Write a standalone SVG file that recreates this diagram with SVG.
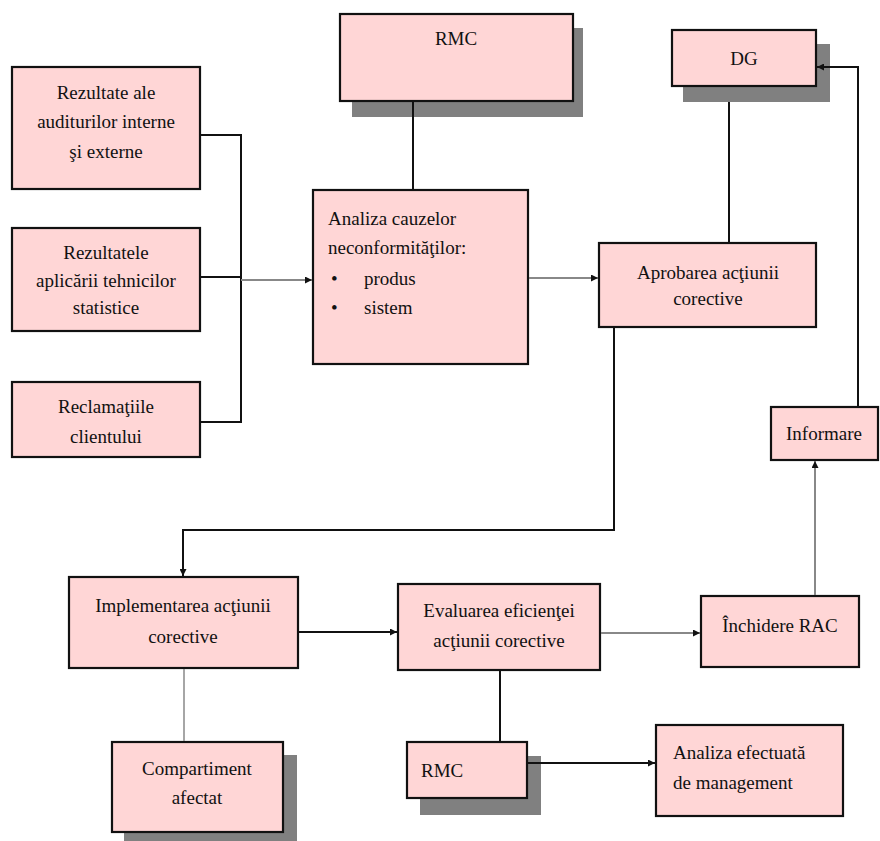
<svg xmlns="http://www.w3.org/2000/svg" width="880" height="841" viewBox="0 0 880 841">
<style>
.box{fill:#ffd6d6;stroke:#111;stroke-width:2.2}
.sh{fill:#808080}
.t{font-family:"Liberation Serif","DejaVu Serif",serif;font-size:19px;fill:#111}
.c{text-anchor:middle}
.ln{fill:none;stroke:#111;stroke-width:2}
.lg{fill:none;stroke:#888;stroke-width:2}
</style>
<defs>
<marker id="ah" viewBox="0 0 10 10" refX="10" refY="5" markerWidth="8" markerHeight="7" orient="auto" markerUnits="userSpaceOnUse">
<path d="M0,0 L10,5 L0,10 z" fill="#111"/>
</marker>
</defs>
<rect width="880" height="841" fill="#fff"/>
<g id="rezultate-audit">
<rect class="box" x="12" y="67" width="188" height="122"/>
<text class="t c" x="106" y="99">Rezultate ale</text>
<text class="t c" x="106" y="128">auditurilor interne</text>
<text class="t c" x="106" y="158">şi externe</text>
</g>
<g id="rezultate-statistice">
<rect class="box" x="12" y="228" width="188" height="103"/>
<text class="t c" x="106" y="259">Rezultatele</text>
<text class="t c" x="106" y="287">aplicării  tehnicilor</text>
<text class="t c" x="106" y="314">statistice</text>
</g>
<g id="reclamatii">
<rect class="box" x="12" y="382" width="188" height="75"/>
<text class="t c" x="106" y="413">Reclamaţiile</text>
<text class="t c" x="106" y="443">clientului</text>
</g>
<g id="rmc-top">
<rect class="sh" x="352" y="28" width="231" height="89"/>
<rect class="box" x="340" y="14" width="233" height="87"/>
<text class="t c" x="456" y="45">RMC</text>
</g>
<g id="analiza-cauzelor">
<rect class="box" x="313" y="190" width="215" height="174"/>
<text class="t" x="328" y="225">Analiza cauzelor</text>
<text class="t" x="328" y="254">neconformităţilor:</text>
<text class="t" x="331" y="285">•</text>
<text class="t" x="364" y="285">produs</text>
<text class="t" x="331" y="314">•</text>
<text class="t" x="364" y="314">sistem</text>
</g>
<g id="dg">
<rect class="sh" x="683" y="44" width="147" height="58"/>
<rect class="box" x="672" y="30" width="144" height="56"/>
<text class="t c" x="744" y="65">DG</text>
</g>
<g id="aprobarea">
<rect class="box" x="599" y="243" width="217" height="84"/>
<text class="t c" x="708" y="279">Aprobarea acţiunii</text>
<text class="t c" x="708" y="305">corective</text>
</g>
<g id="informare">
<rect class="box" x="771" y="407" width="107" height="53"/>
<text class="t c" x="824" y="440">Informare</text>
</g>
<g id="implementarea">
<rect class="box" x="69" y="577" width="229" height="91"/>
<text class="t c" x="183" y="612">Implementarea acţiunii</text>
<text class="t c" x="183" y="643">corective</text>
</g>
<g id="evaluarea">
<rect class="box" x="398" y="584" width="202" height="86"/>
<text class="t c" x="499" y="617">Evaluarea  eficienţei</text>
<text class="t c" x="499" y="647">acţiunii corective</text>
</g>
<g id="inchidere">
<rect class="box" x="701" y="596" width="158" height="71"/>
<text class="t c" x="780" y="632">Închidere  RAC</text>
</g>
<g id="compartiment">
<rect class="sh" x="124" y="755" width="173" height="86"/>
<rect class="box" x="112" y="742" width="171" height="90"/>
<text class="t c" x="197" y="775">Compartiment</text>
<text class="t c" x="197" y="804">afectat</text>
</g>
<g id="rmc-bottom">
<rect class="sh" x="420" y="756" width="121" height="59"/>
<rect class="box" x="407" y="742" width="120" height="56"/>
<text class="t" x="421" y="777">RMC</text>
</g>
<g id="analiza-management">
<rect class="box" x="656" y="725" width="187" height="91"/>
<text class="t" x="673" y="759">Analiza efectuată</text>
<text class="t" x="673" y="789">de management</text>
</g>
<g id="connectors">
<polyline class="ln" points="201,135 241,135 241,422 201,422"/>
<line class="ln" x1="201" y1="277" x2="241" y2="277"/>
<line class="lg" x1="241" y1="280" x2="312" y2="280" marker-end="url(#ah)"/>
<line class="ln" x1="413" y1="102" x2="413" y2="189"/>
<line class="lg" x1="529" y1="278" x2="598" y2="278" marker-end="url(#ah)"/>
<line class="ln" x1="729" y1="102" x2="729" y2="242"/>
<polyline class="ln" points="858,406 858,67 817,67" marker-end="url(#ah)"/>
<polyline class="ln" points="614,328 614,530 183,530 183,576" marker-end="url(#ah)"/>
<line class="lg" x1="184" y1="669" x2="184" y2="741" style="stroke-width:1.5"/>
<line class="ln" x1="299" y1="632" x2="397" y2="632" marker-end="url(#ah)"/>
<line class="lg" x1="601" y1="633" x2="700" y2="633" marker-end="url(#ah)"/>
<line class="ln" x1="500" y1="671" x2="500" y2="741"/>
<line class="lg" x1="815" y1="595" x2="815" y2="461" marker-end="url(#ah)"/>
<line class="ln" x1="528" y1="763" x2="655" y2="763" marker-end="url(#ah)"/>
</g>
</svg>
